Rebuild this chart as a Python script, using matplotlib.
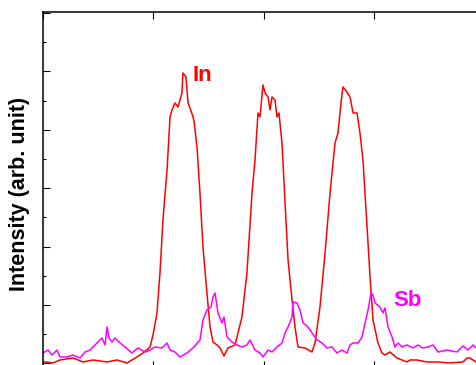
import numpy as np
import matplotlib
matplotlib.use('Agg')
from matplotlib import pyplot as plt
from matplotlib.ticker import MultipleLocator, NullFormatter

# profilo In (rosso)
x_in = [0.7, 9.5, 15.8, 27.6, 36.7, 45.7, 58.4, 67.4, 76.5, 85.5, 91.0, 97.3,
        100.0, 103.6, 106.3, 109.0, 112.7, 115.4, 117.2, 119.9, 122.6, 126.2,
        127.1, 129.8, 131.7, 135.3, 137.1, 139.8, 142.5, 145.2, 148.8, 151.6,
        154.3, 157.9, 160.6, 164.2, 167.9, 174.2, 176.9, 180.5, 185.0, 189.6,
        192.3, 195.0, 196.8, 199.5, 201.4, 204.1, 205.9, 207.7, 210.4, 212.2,
        214.0, 216.7, 219.5, 222.2, 225.8, 228.5, 231.2, 237.6, 243.9, 246.6,
        251.1, 255.7, 260.2, 264.7, 267.4, 270.1, 271.9, 275.5, 278.3, 281.0,
        284.6, 287.3, 290.0, 293.7, 296.4, 299.1, 303.6, 307.2, 309.9, 314.4,
        320.8, 329.8, 332.5, 338.9, 347.9, 357.0, 368.7, 380.5, 384.1, 386.8,
        392.3]
y_in = [2.9, 0.7, 5.8, 9.2, 2.4, 5.8, 2.4, 5.8, 0.7, 11.0, 17.8, 28.1,
        48.6, 86.3, 154.8, 245.5, 331.1, 421.8, 433.8, 445.8, 439.0, 463.0,
        497.2, 490.4, 446.2, 427.3, 415.4, 370.5, 291.7, 199.3, 120.5, 62.3,
        36.6, 31.5, 26.4, 12.7, 26.4, 31.5, 52.0, 79.4, 154.8, 291.7,
        348.2, 428.7, 421.8, 476.6, 462.9, 456.0, 433.8, 456.0, 450.9, 421.8,
        428.7, 377.3, 274.6, 177.0, 108.5, 62.3, 28.1, 26.4, 19.5, 34.9,
        96.6, 189.0, 291.7, 377.3, 394.4, 445.8, 473.2, 464.6, 456.0, 428.7,
        428.7, 394.4, 348.2, 233.5, 147.9, 74.3, 34.9, 17.8, 14.4, 19.5,
        9.2, 2.4, 5.8, 5.8, 2.4, 2.4, 0.7, 2.4, 9.2, 9.2,
        2.4]

# profilo Sb (magenta)
x_sb = [0.5, 5.0, 8.6, 13.1, 15.8, 22.2, 27.6, 33.9, 38.5, 43.0, 47.5, 53.8,
        56.6, 58.4, 60.2, 62.9, 65.6, 70.1, 74.7, 81.0, 86.4, 92.8, 97.3, 101.8,
        108.1, 112.7, 115.4, 119.9, 124.4, 130.8, 136.2, 142.5, 145.2, 148.8,
        152.5, 154.3, 156.1, 158.8, 162.4, 164.2, 167.0, 171.5, 176.0, 180.5,
        185.0, 187.8, 192.3, 196.8, 199.5, 204.1, 207.7, 212.2, 216.7, 219.5,
        222.2, 225.8, 226.7, 230.3, 233.0, 235.8, 240.3, 243.9, 248.4, 252.9,
        257.5, 262.0, 266.5, 271.0, 275.5, 278.3, 281.0, 285.5, 289.1, 291.9,
        294.6, 297.3, 299.1, 300.9, 305.4, 308.1, 309.9, 312.7, 316.3, 319.0,
        321.7, 325.3, 329.8, 335.3, 339.8, 344.3, 348.8, 353.4, 357.9, 366.0,
        375.1, 380.5, 385.0, 389.6, 392.3]
y_sb = [17.8, 22.9, 14.4, 22.9, 11.0, 11.0, 14.4, 9.2, 19.5, 22.9, 31.5, 43.5,
        31.5, 62.3, 43.5, 36.6, 43.5, 34.9, 28.1, 17.8, 26.4, 19.5, 22.9, 28.1,
        26.4, 34.9, 22.9, 19.5, 11.0, 17.8, 26.4, 40.1, 74.3, 91.4,
        96.6, 113.7, 120.5, 86.3, 69.2, 79.4, 45.2, 36.6, 31.5, 28.1,
        31.5, 40.1, 22.9, 17.8, 11.0, 22.9, 19.5, 28.1, 34.9, 52.0,
        62.3, 79.4, 105.1, 103.4, 91.4, 69.2, 62.3, 52.0, 40.1, 34.9,
        26.4, 28.1, 17.8, 22.9, 17.8, 31.5, 34.9, 34.9, 45.2, 69.2,
        91.4, 120.5, 117.1, 103.4, 96.6, 86.3, 94.9, 62.3, 45.2, 28.1,
        34.9, 28.1, 31.5, 26.4, 31.5, 26.4, 28.1, 31.5, 19.5, 22.9,
        19.5, 29.8, 22.9, 31.5, 26.4]


fig = plt.figure(figsize=(4.76, 3.65), dpi=100, facecolor='w')
# asse inferiore appena fuori dall'immagine, come nell'originale
ax = fig.add_axes([0.0893, -0.0082, 0.9286, 0.9745])

ax.plot(x_in, y_in, color='#ff0000', lw=1.1)
ax.plot(x_sb, y_sb, color='#ff00ff', lw=1.1)

ax.text(135.3, 493, 'In', color='#ff0000', fontsize=16, fontweight='bold',
        family='Liberation Sans', ha='left', va='center')
ax.text(317.2, 108, 'Sb', color='#ff00ff', fontsize=16, fontweight='bold',
        family='Liberation Sans', ha='left', va='center')

ax.set_xlim(0, 400)
ax.set_ylim(-7.9, 601)

ax.xaxis.set_major_locator(MultipleLocator(100))
ax.yaxis.set_major_locator(MultipleLocator(100))
ax.yaxis.set_minor_locator(MultipleLocator(50))
ax.xaxis.set_major_formatter(NullFormatter())
ax.yaxis.set_major_formatter(NullFormatter())
ax.tick_params(axis='x', which='major', direction='in', top=True, bottom=True,
               length=5, width=0.8)
ax.tick_params(axis='y', which='major', direction='in', left=True, right=False,
               length=5, width=0.8)
ax.tick_params(axis='y', which='minor', direction='in', left=True, right=False,
               length=2.5, width=0.8)
for s in ax.spines.values():
    s.set_linewidth(1.1)

ax.set_ylabel('Intensity (arb. unit)', fontsize=15.5, fontweight='bold',
              family='Liberation Sans')
ax.yaxis.label.set_va('center')
ax.yaxis.set_label_coords(-0.052, 0.49)

fig.savefig('out.png', dpi=100)
